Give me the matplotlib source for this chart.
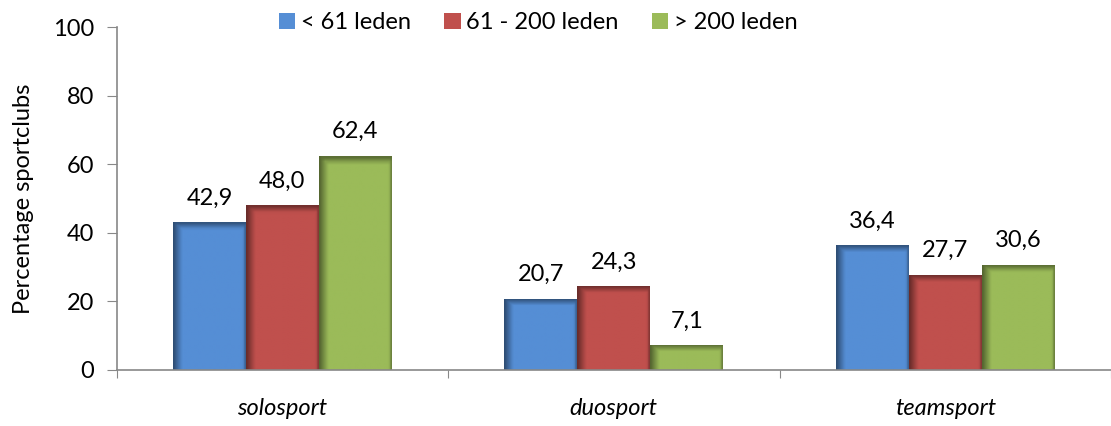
import numpy as np
import matplotlib
matplotlib.use("Agg")
import matplotlib.pyplot as plt
from matplotlib.colors import to_rgb

categories = ["solosport", "duosport", "teamsport"]
series_names = ["< 61 leden", "61 - 200 leden", "> 200 leden"]
small = [42.9, 20.7, 36.4]
medium = [48.0, 24.3, 27.7]
large = [62.4, 7.1, 30.6]
series = [small, medium, large]
colors = ["#558ED5", "#C0504D", "#9BBB59"]
yticks = [0, 20, 40, 60, 80, 100]

plt.rcParams['font.family'] = ['Lato', 'DejaVu Sans']
FS = 17

fig = plt.figure(figsize=(11.11, 4.26), dpi=100)
ax = fig.add_axes([0.105, 0.1315, 0.895, 0.805])

bw = 0.22
x = np.arange(len(categories))


def bevel(ax, x0, x1, y1, color):
    base = np.array(to_rgb(color))
    ny, nx = 60, 40
    img = np.tile(base, (ny, nx, 1))
    xs = np.linspace(0, 1, nx)
    left = np.clip(1 - xs / 0.12, 0, 1) * 0.45
    right = np.clip(1 - (1 - xs) / 0.03, 0, 1) * 0.3
    h_px = max(y1 * 3.43, 1)
    frac = min(6.0 / h_px, 0.5)
    ys = np.linspace(0, 1, ny)
    top = np.clip(1 - ys / frac, 0, 1) * 0.4
    dark = np.maximum.outer(top, np.maximum(left, right))
    img = img * (1 - dark[..., None])
    ax.imshow(img, extent=(x0, x1, 0, y1), aspect='auto', origin='upper',
              interpolation='bilinear', zorder=2)


for i, (vals, col, name) in enumerate(zip(series, colors, series_names)):
    xpos = x + (i - 1) * bw
    ax.bar(xpos, vals, width=bw, color=col, label=name, zorder=1)
    for xp, v in zip(xpos, vals):
        bevel(ax, xp - bw / 2, xp + bw / 2, v, col)
        ax.text(xp, v + 4.0, f"{v:.1f}".replace(".", ","), ha="center",
                va="bottom", fontsize=FS, color="black")

ax.set_xlim(-0.5, 2.476)
ax.set_ylim(0, 100)
ax.set_yticks(yticks)
ax.set_yticklabels([str(t) for t in yticks], fontsize=FS)
ax.set_xticks([-0.5, 0.5, 1.5, 2.5])
ax.set_xticklabels([])
ax.set_xticks(x, minor=True)
ax.set_xticklabels(categories, minor=True, fontsize=FS, style="italic")
ax.tick_params(axis="x", which="minor", length=0, pad=20)
ax.tick_params(axis="x", which="major", length=6, color="#888888", direction="out")
ax.tick_params(axis="y", length=7, color="#888888", direction="out", pad=9)
for s in ["top", "right"]:
    ax.spines[s].set_visible(False)
for s in ["left", "bottom"]:
    ax.spines[s].set_color("#888888")
    ax.spines[s].set_linewidth(1.2)
ax.set_ylabel("Percentage sportclubs", fontsize=FS, labelpad=14)

leg = ax.legend(loc="upper center", bbox_to_anchor=(0.424, 1.105), ncol=3,
                frameon=False, fontsize=FS, handlelength=0.7, handleheight=0.7,
                handletextpad=0.25, columnspacing=1.4)

fig.savefig("out.png", dpi=100)
